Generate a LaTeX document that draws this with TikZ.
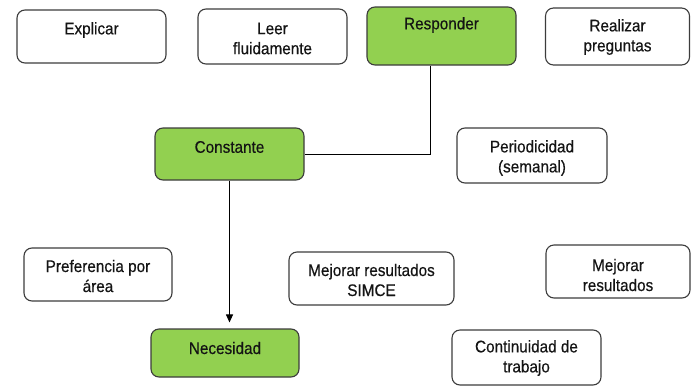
\documentclass[tikz,border=0pt]{standalone}
\usepackage{fontspec}
\setmainfont{Liberation Sans}
\newfontfamily\boxfont[FakeStretch=0.91,FakeBold=0.4]{Liberation Sans}
\usetikzlibrary{arrows.meta}
\definecolor{boxgreen}{HTML}{92D050}
\definecolor{edge}{HTML}{3C3C3C}
\definecolor{ink}{HTML}{141414}
\begin{document}
\begin{tikzpicture}[x=1pt,y=-1pt,
  box/.style={draw=edge, line width=1.1pt, rounded corners=8pt, fill=white, inner sep=0pt},
  greenbox/.style={box, fill=boxgreen},
  txt/.style={text=ink, align=center, inner sep=0pt, font=\boxfont\fontsize{16.8}{20}\selectfont},
  link/.style={draw=black, line width=1pt},
]
\useasboundingbox (0,0) rectangle (692,388);

% top row
\node[box, minimum width=149, minimum height=53] (explicar) at (91.5,36.5) {};
\node[txt] (explicar-t) at (91.5,30) {Explicar};
\node[box, minimum width=149, minimum height=55] (leer) at (272.5,36.5) {};
\node[txt] (leer-t) at (272.5,38.5) {Leer\\fluidamente};
\node[greenbox, minimum width=149, minimum height=58] (resp) at (441.5,36) {};
\node[txt] (resp-t) at (441.5,25) {Responder};
\node[box, minimum width=144, minimum height=57] (realizar) at (617.5,36.5) {};
\node[txt] (realizar-t) at (617.5,37) {Realizar\\preguntas};

% middle row
\node[greenbox, minimum width=149, minimum height=52] (const) at (229.5,154) {};
\node[txt] (const-t) at (229.5,147) {Constante};
\node[box, minimum width=150, minimum height=55] (period) at (532,155.5) {};
\node[txt] (period-t) at (532,158) {Periodicidad\\(semanal)};

% lower row
\node[box, minimum width=148, minimum height=53] (pref) at (98,274.5) {};
\node[txt] (pref-t) at (98,276) {Preferencia por\\área};
\node[box, minimum width=165, minimum height=53] (simce) at (371.5,278.5) {};
\node[txt] (simce-t) at (371.5,280) {Mejorar resultados\\SIMCE};
\node[box, minimum width=144, minimum height=53] (mejorar) at (618,271.5) {};
\node[txt] (mejorar-t) at (618,275) {Mejorar\\resultados};

% bottom row
\node[greenbox, minimum width=148, minimum height=48] (nec) at (225,353) {};
\node[txt] (nec-t) at (225,348) {Necesidad};
\node[box, minimum width=149, minimum height=55] (cont) at (526.5,357.5) {};
\node[txt] (cont-t) at (526.5,358) {Continuidad de\\trabajo};

% connectors
\draw[link] ([xshift=-11.5pt]resp.south) |- (const.east);
\draw[link, -{Triangle[length=8pt,width=7pt]}, shorten >=6pt]
  (const.south) -- (const.south |- nec.north);
\end{tikzpicture}
\end{document}
